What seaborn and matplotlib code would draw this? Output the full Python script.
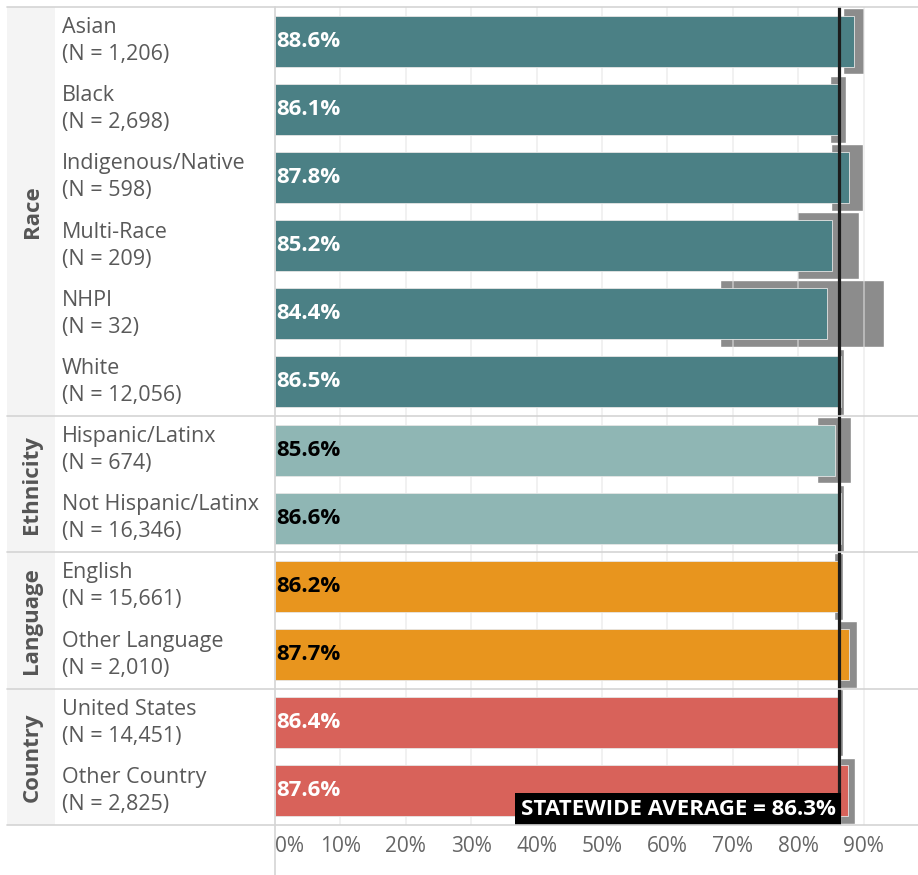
import matplotlib
matplotlib.use("Agg")
import matplotlib.pyplot as plt
import matplotlib.transforms as mtransforms
from matplotlib.lines import Line2D
from matplotlib.patches import Rectangle
import pandas as pd
import seaborn as sns

# --- data -------------------------------------------------------------
groups = ["Race"] * 6 + ["Ethnicity"] * 2 + ["Language"] * 2 + ["Country"] * 2
categories = ["Asian", "Black", "Indigenous/Native", "Multi-Race", "NHPI", "White",
              "Hispanic/Latinx", "Not Hispanic/Latinx", "English", "Other Language",
              "United States", "Other Country"]
counts = ["1,206", "2,698", "598", "209", "32", "12,056",
          "674", "16,346", "15,661", "2,010", "14,451", "2,825"]
rates = [88.6, 86.1, 87.8, 85.2, 84.4, 86.5, 85.6, 86.6, 86.2, 87.7, 86.4, 87.6]
ci_low = [86.8, 84.8, 85.0, 79.8, 68.1, 85.9, 82.8, 86.2, 85.5, 86.1, 86.0, 86.4]
ci_high = [90.1, 87.3, 89.9, 89.3, 93.1, 87.0, 88.0, 87.0, 86.8, 89.0, 86.8, 88.7]
statewide_avg = 86.3
x_ticks = [0, 10, 20, 30, 40, 50, 60, 70, 80, 90]

group_order = ["Race", "Ethnicity", "Language", "Country"]
group_colors = {"Race": "#4b8085", "Ethnicity": "#8fb6b4",
                "Language": "#e8951e", "Country": "#d8625a"}
label_colors = {"Race": "white", "Ethnicity": "black",
                "Language": "black", "Country": "white"}

df = pd.DataFrame({"group": groups, "category": categories, "n": counts,
                   "rate": rates, "lo": ci_low, "hi": ci_high})
df["label"] = df["category"] + "\n(N = " + df["n"] + ")"

# --- figure -----------------------------------------------------------
sns.set_theme(style="white")
plt.rcParams["font.family"] = ["Open Sans", "DejaVu Sans"]

W, H = 918, 875
fig = plt.figure(figsize=(W / 100, H / 100), dpi=100)
ax = fig.add_axes([275 / W, 50 / H, 643 / W, 818 / H])

sns.barplot(data=df, x="rate", y="label", hue="group", hue_order=group_order,
            palette=group_colors, dodge=False, width=0.75, saturation=1,
            orient="h", legend=False, ax=ax, zorder=3, errorbar=None,
            edgecolor="#e6e6e6", linewidth=0.6)

ypos = list(range(len(df)))
# confidence-interval bands behind the bars
ax.barh(ypos, [h - l for l, h in zip(df["lo"], df["hi"])], left=df["lo"],
        height=0.98, color="#8c8c8c", zorder=1)

# light vertical gridlines
for t in x_ticks[1:]:
    ax.axvline(t, color="#e4e4e4", alpha=0.6, lw=1.2, zorder=2)

ax.set_xlim(0, 643 / 6.54)
ax.set_ylim(len(df) - 0.5, -0.5)
for s in ax.spines.values():
    s.set_visible(False)
ax.set_xlabel("")
ax.set_ylabel("")
ax.set_yticks([])
ax.set_xticks(x_ticks)
ax.set_xticklabels([f"{t}%" for t in x_ticks], color="#666666", fontsize=15)
ax.tick_params(axis="x", length=0, pad=8)
ax.get_xticklabels()[0].set_horizontalalignment("left")

# statewide average line and its label
ax.axvline(statewide_avg, color="#1c1c1c", lw=2.3, zorder=4)
ax.text(statewide_avg - 0.6, len(df) - 0.5 - 0.08,
        f"STATEWIDE AVERAGE = {statewide_avg}%", ha="right", va="bottom",
        color="white", fontsize=16, fontweight="bold", zorder=6,
        bbox=dict(facecolor="black", edgecolor="none", pad=3.8))

# values inside bars
for y, (g, r) in enumerate(zip(df["group"], df["rate"])):
    ax.text(0.25, y, f"{r}%", ha="left", va="center", fontsize=16,
            fontweight="bold", color=label_colors[g], zorder=5)

# --- left-hand header columns -----------------------------------------
blend = mtransforms.blended_transform_factory(fig.transFigure, ax.transData)

fig.patches.append(Rectangle((7 / W, -0.5), 48 / W, len(df), transform=blend,
                             facecolor="#f4f4f4", edgecolor="none", zorder=0))

for y, lab in enumerate(df["label"]):
    fig.text(62 / W, y, lab, transform=blend, ha="left", va="center",
             fontsize=15.5, color="#595959", linespacing=1.38)

bounds = [-0.5]
for g in group_order:
    idx = [i for i, gg in enumerate(groups) if gg == g]
    fig.text(32 / W, (idx[0] + idx[-1]) / 2, g, transform=blend, rotation=90,
             ha="center", va="center", fontsize=16, fontweight="bold",
             color="#555555")
    bounds.append(idx[-1] + 0.5)

for b in bounds:
    fig.lines.append(Line2D([7 / W, 1], [b, b], transform=blend,
                            color="#d4d4d4", lw=1.2, zorder=1))
fig.lines.append(Line2D([275 / W, 275 / W], [0, 868 / H],
                        transform=fig.transFigure, color="#d4d4d4", lw=1.2))

fig.savefig("out.png", dpi=100)
